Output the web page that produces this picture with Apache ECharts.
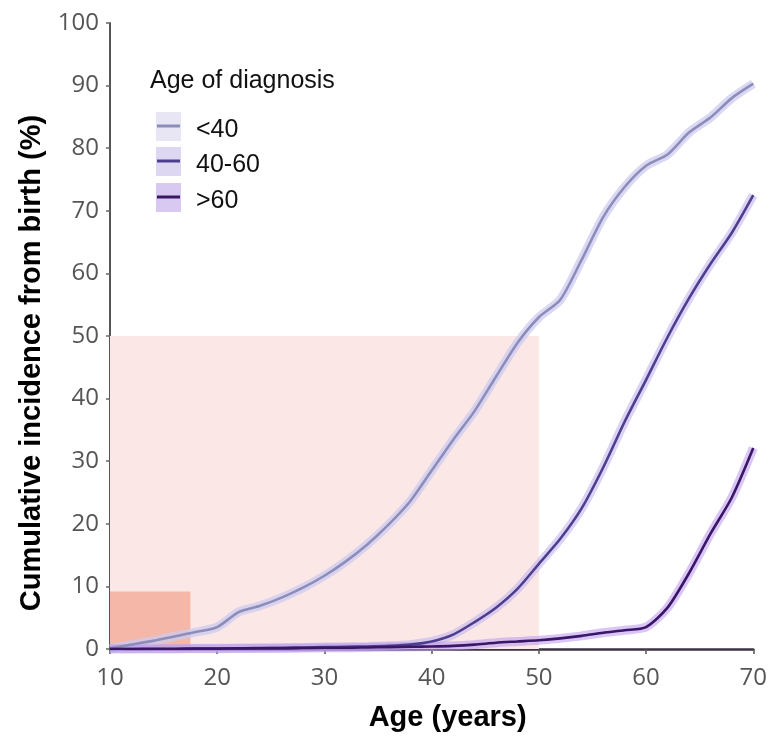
<!DOCTYPE html>
<html>
<head>
<meta charset="utf-8">
<script src="https://cdn.jsdelivr.net/npm/echarts@6/dist/echarts.min.js"></script>
<style>
html,body{margin:0;padding:0;background:#fff;}
#chart{width:770px;height:737px;}
</style>
</head>
<body>
<div id="chart"></div>
<script>
// ---- data ----
const ages = [10,12,14,16,18,20,22,24,26,28,30,32,34,36,38,40,42,44,46,48,50,52,54,56,58,60,62,64,66,68,70];
const under40 = [0.1,0.7,1.3,2.0,2.7,3.5,5.9,6.9,8.2,9.8,11.7,14.0,16.7,19.9,23.6,28.5,33.4,38.0,43.5,48.9,53.0,55.8,62.2,69.0,73.8,77.2,79.0,82.5,84.9,88.0,90.3];
const from40to60 = [0,0,0.05,0.05,0.1,0.1,0.1,0.15,0.2,0.25,0.3,0.35,0.4,0.5,0.7,1.2,2.3,4.3,6.6,9.6,13.6,17.6,22.5,29.0,36.3,43.0,49.8,56.0,61.5,66.5,72.5];
const over60 = [0,0,0,0,0.05,0.05,0.1,0.1,0.1,0.15,0.2,0.2,0.25,0.3,0.35,0.4,0.5,0.7,1.0,1.2,1.4,1.7,2.1,2.6,3.0,3.5,6.6,12.1,18.4,24.2,32.1];
const seriesNames = ['<40','40-60','>60'];
const legendTitle = 'Age of diagnosis';
const xTicks = [10,20,30,40,50,60,70];
const yTicks = [0,10,20,30,40,50,60,70,80,90,100];
// shaded regions: [x0, y0, x1, y1]
const bigRegion = [10, 0, 50, 50];
const smallRegion = [10, 0, 17.5, 9.2];
const xTitle = 'Age (years)';
const yTitle = 'Cumulative incidence from birth (%)';

// ---- styling ----
const lineColors = ['#8c8db8', '#4e3e8e', '#3a1666'];
const haloColors = ['rgba(205,203,240,0.75)', 'rgba(195,180,238,0.6)', 'rgba(185,150,238,0.55)'];
const iconFill = ['#e8e6f4', '#ddd7f1', '#d7c9ef'];

const pairs = (ys) => ages.map((a, i) => [a, ys[i]]);
const allData = [under40, from40to60, over60];

const series = [];
allData.forEach((ys, i) => {
  series.push({
    name: seriesNames[i] + ' band',
    type: 'line', data: pairs(ys), showSymbol: false, silent: true,
    smooth: 0.25, z: 2,
    lineStyle: { width: 9, color: haloColors[i] },
    markArea: i === 0 ? {
      silent: true,
      data: [
        [{ xAxis: bigRegion[0], yAxis: bigRegion[1], itemStyle: { color: '#fbe8e6' } }, { xAxis: bigRegion[2], yAxis: bigRegion[3] }],
        [{ xAxis: smallRegion[0], yAxis: smallRegion[1], itemStyle: { color: '#f4b7a8' } }, { xAxis: smallRegion[2], yAxis: smallRegion[3] }]
      ]
    } : undefined
  });
});
allData.forEach((ys, i) => {
  series.push({
    name: seriesNames[i],
    type: 'line', data: pairs(ys), showSymbol: false,
    smooth: 0.25, z: 3 + i,
    lineStyle: { width: 2.6, color: lineColors[i] },
    itemStyle: { color: lineColors[i] }
  });
});

// legend drawn as graphic
const legendGraphic = [];
legendGraphic.push({ type: 'text', left: 150, top: 69, style: { text: legendTitle, font: '25px "Liberation Sans", Arial, sans-serif', fill: '#111' } });
const rowY = [126, 161, 197];
seriesNames.forEach((n, i) => {
  legendGraphic.push({ type: 'rect', shape: { x: 156, y: rowY[i] - 14, width: 25, height: 29 }, style: { fill: iconFill[i] } });
  legendGraphic.push({ type: 'line', shape: { x1: 157, y1: rowY[i], x2: 180, y2: rowY[i] }, style: { stroke: lineColors[i], lineWidth: 3 } });
  legendGraphic.push({ type: 'text', left: 196, top: rowY[i] - 8, style: { text: n, font: '25px "Liberation Sans", Arial, sans-serif', fill: '#111' } });
});

const chart = echarts.init(document.getElementById('chart'), null, { renderer: 'canvas' });
chart.setOption({
  backgroundColor: '#fff',
  animation: false,
  grid: { left: 110, right: 11, top: 23, bottom: 88, containLabel: false },
  xAxis: {
    type: 'value', min: xTicks[0], max: xTicks[xTicks.length - 1], interval: 10,
    name: xTitle, nameLocation: 'middle', nameGap: 54,
    nameTextStyle: { fontFamily: '"Liberation Sans", Arial, sans-serif', fontWeight: 'bold', fontSize: 29, color: '#000', padding: [0, 0, 0, 32] },
    axisLine: { lineStyle: { color: '#3a3340', width: 2.5 } },
    axisTick: { length: 5, lineStyle: { color: '#555', width: 1.5 } },
    axisLabel: { margin: 17, fontFamily: '"Open Sans", sans-serif', fontSize: 24, color: '#555' },
    splitLine: { show: false }
  },
  yAxis: {
    type: 'value', min: yTicks[0], max: yTicks[yTicks.length - 1], interval: 10,
    name: yTitle, nameLocation: 'middle', nameGap: 62, nameRotate: 90,
    nameTextStyle: { fontFamily: '"Liberation Sans", Arial, sans-serif', fontWeight: 'bold', fontSize: 29, color: '#000', padding: [0, 54, 0, 0] },
    axisLine: { show: true, lineStyle: { color: '#555', width: 2 } },
    axisTick: { show: true, length: 4, lineStyle: { color: '#666', width: 1.5 } },
    axisLabel: { margin: 11, fontFamily: '"Open Sans", sans-serif', fontSize: 24, color: '#555' },
    splitLine: { show: false }
  },
  graphic: legendGraphic,
  series: series
});
</script>
</body>
</html>
